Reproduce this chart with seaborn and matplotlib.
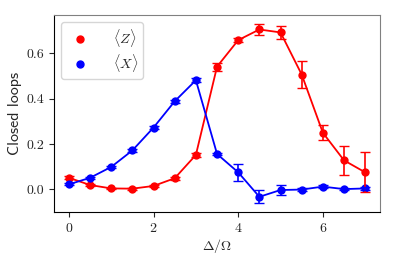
import numpy as np
import pandas as pd
import matplotlib
matplotlib.use("Agg")
import matplotlib.pyplot as plt
from matplotlib.lines import Line2D
import seaborn as sns

# Data
delta = [0, 0.5, 1, 1.5, 2, 2.5, 3, 3.5, 4, 4.5, 5, 5.5, 6, 6.5, 7]
z_vals = [0.051, 0.019, 0.004, 0.003, 0.015, 0.049, 0.152, 0.542, 0.659, 0.706, 0.693, 0.507, 0.250, 0.128, 0.075]
z_err = [0.006, 0.005, 0.004, 0.004, 0.005, 0.006, 0.008, 0.018, 0.010, 0.025, 0.027, 0.059, 0.032, 0.065, 0.088]
x_vals = [0.022, 0.051, 0.099, 0.172, 0.273, 0.389, 0.482, 0.156, 0.075, -0.033, -0.003, -0.001, 0.012, 0.001, 0.004]
x_err = [0.005, 0.005, 0.005, 0.006, 0.006, 0.007, 0.008, 0.006, 0.038, 0.028, 0.021, 0.006, 0.006, 0.006, 0.008]
labels = [r"$\langle Z\rangle$", r"$\langle X\rangle$"]
colors = ["red", "blue"]

sns.set_style("ticks")
plt.rcParams["font.family"] = ["cmr10", "DejaVu Serif"]
plt.rcParams["mathtext.fontset"] = "cm"
plt.rcParams["axes.formatter.use_mathtext"] = True
plt.rcParams["axes.unicode_minus"] = False

df = pd.DataFrame({"delta": delta * 2,
                   "value": z_vals + x_vals,
                   "series": ["Z"] * len(delta) + ["X"] * len(delta)})

fig, ax = plt.subplots(figsize=(3.95, 2.63), dpi=100)
sns.lineplot(data=df, x="delta", y="value", hue="series",
             palette={"Z": "red", "X": "blue"}, marker="o", markersize=6,
             markeredgewidth=0, linewidth=1.3, legend=False, ax=ax)

# error bars
ax.errorbar(delta, z_vals, yerr=z_err, fmt="none", ecolor="red", capsize=3.3, elinewidth=1.2)
ax.errorbar(delta, x_vals, yerr=x_err, fmt="none", ecolor="blue", capsize=3.3, elinewidth=1.2)

ax.set_xlim(-0.35, 7.35)
ax.set_ylim(-0.1, 0.77)
ax.set_xticks([0, 2, 4, 6])
ax.set_yticks([0.0, 0.2, 0.4, 0.6])
ax.set_yticklabels(["0.0", "0.2", "0.4", "0.6"])
ax.tick_params(labelsize=10, length=3.5, width=0.8)
ax.set_xlabel(r"$\Delta/\Omega$", fontsize=10, labelpad=2)
ax.set_ylabel("Closed loops", fontsize=11.5, family=["cmss10", "DejaVu Sans"], labelpad=3)

for side in ["top", "right"]:
    ax.spines[side].set_color("gray")
for side in ["left", "bottom"]:
    ax.spines[side].set_color("black")

handles = [Line2D([], [], color=c, marker="o", linestyle="none", markersize=5) for c in colors]
ax.legend(handles, labels, loc="upper left", fontsize=10, handletextpad=1.4,
          borderpad=0.35, labelspacing=0.25, frameon=True)

plt.subplots_adjust(left=0.137, right=0.962, top=0.943, bottom=0.194)
fig.savefig("out.png", dpi=100)
